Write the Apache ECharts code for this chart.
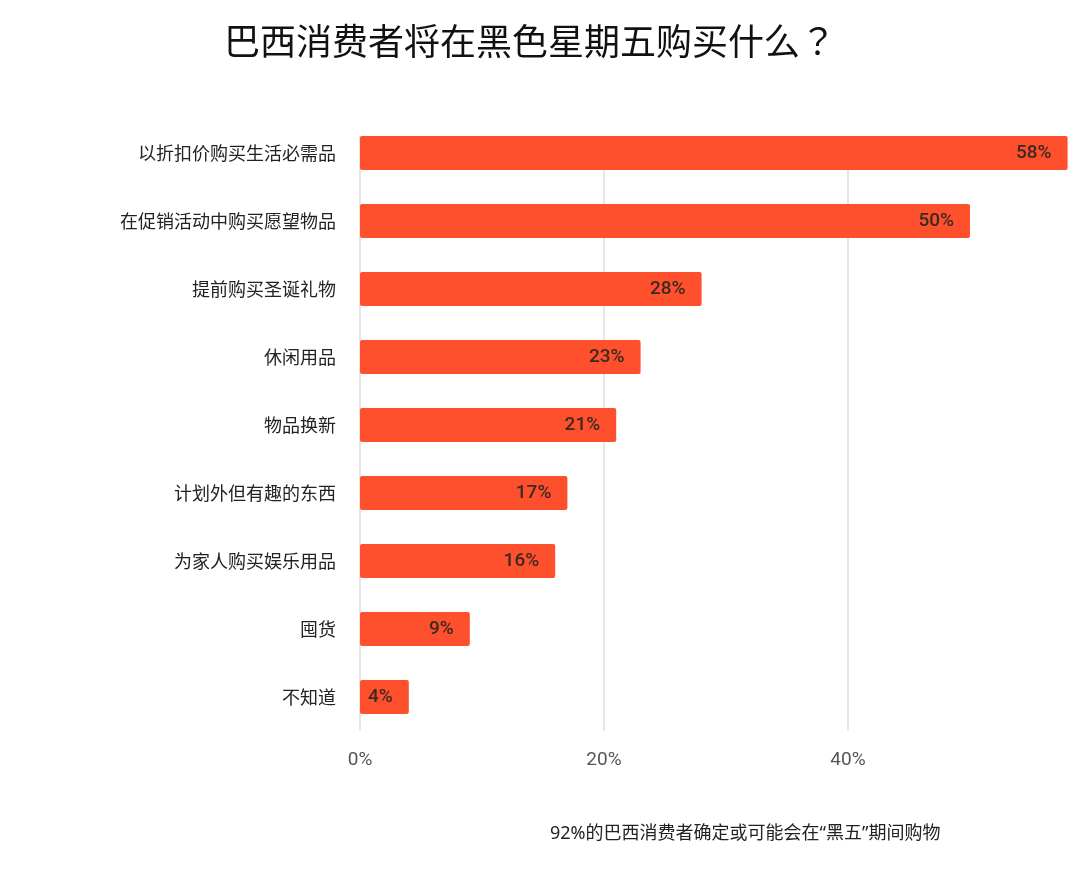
<!DOCTYPE html>
<html>
<head>
<meta charset="utf-8">
<script src="https://cdn.jsdelivr.net/npm/echarts@6/dist/echarts.min.js"></script>
<style>html,body{margin:0;padding:0;background:#fff;}#c{width:1080px;height:874px;}</style>
</head>
<body>
<div id="c"></div>
<script>
const categories = ['以折扣价购买生活必需品','在促销活动中购买愿望物品','提前购买圣诞礼物','休闲用品','物品换新','计划外但有趣的东西','为家人购买娱乐用品','囤货','不知道'];
const values = [58, 50, 28, 23, 21, 17, 16, 9, 4];
const tickValues = [0, 20, 40];
const titleText = '巴西消费者将在黑色星期五购买什么？';
const noteText = '92%的巴西消费者确定或可能会在“黑五”期间购物';

const chart = echarts.init(document.getElementById('c'));
const cjk = '"Noto Sans CJK SC", sans-serif';
const mixed = '"Noto Sans", "Noto Sans CJK SC", sans-serif';
const BAR_W = 34;
chart.setOption({
  backgroundColor: '#fff',
  animation: false,
  title: [{
    text: titleText,
    left: 525, top: 18, textAlign: 'center',
    textStyle: {fontFamily: '"Noto Sans CJK JP", "Noto Sans CJK SC", sans-serif', fontSize: 36, fontWeight: 'normal', color: '#111'}
  }, {
    text: noteText,
    left: 545, top: 820,
    textStyle: {fontFamily: mixed, fontSize: 18, fontWeight: 'normal', color: '#222'}
  }],
  grid: {left: 360, top: 119, width: 732, height: 612, containLabel: false, outerBoundsMode: 'none'},
  xAxis: {
    type: 'value', min: 0, max: 60, interval: 20,
    axisLine: {show: false}, axisTick: {show: false},
    splitLine: {lineStyle: {color: '#dedede', width: 1.5}},
    axisLabel: {
      margin: 20, color: '#555', fontSize: 19, fontFamily: 'Roboto, sans-serif',
      formatter: v => tickValues.indexOf(v) >= 0 ? v + '%' : ''
    }
  },
  yAxis: {
    type: 'category', inverse: true, data: categories,
    axisLine: {show: false}, axisTick: {show: false},
    axisLabel: {margin: 24, color: '#222', fontSize: 18, fontFamily: cjk, padding: [12, 0, 0, 0]}
  },
  series: [{
    type: 'bar', data: values, barWidth: BAR_W, z: 3,
    itemStyle: {color: '#fe502d', borderRadius: 2},
    label: {
      show: true, position: 'insideRight', distance: 16,
      formatter: p => p.value + '%',
      color: '#3a2a22', fontSize: 19, fontFamily: 'Roboto, sans-serif', fontWeight: 500
    }
  }]
});
// hide the grid-line stub above the first bar (gridlines start at the top bar in the reference)
const gridTop = 119;
const firstBarTop = chart.convertToPixel({yAxisIndex: 0}, categories[0]) - BAR_W / 2;
chart.setOption({
  graphic: [{
    type: 'rect', z: 1, silent: true,
    shape: {x: 350, y: gridTop - 2, width: 730, height: firstBarTop - gridTop + 2},
    style: {fill: '#fff'}
  }]
});
</script>
</body>
</html>
